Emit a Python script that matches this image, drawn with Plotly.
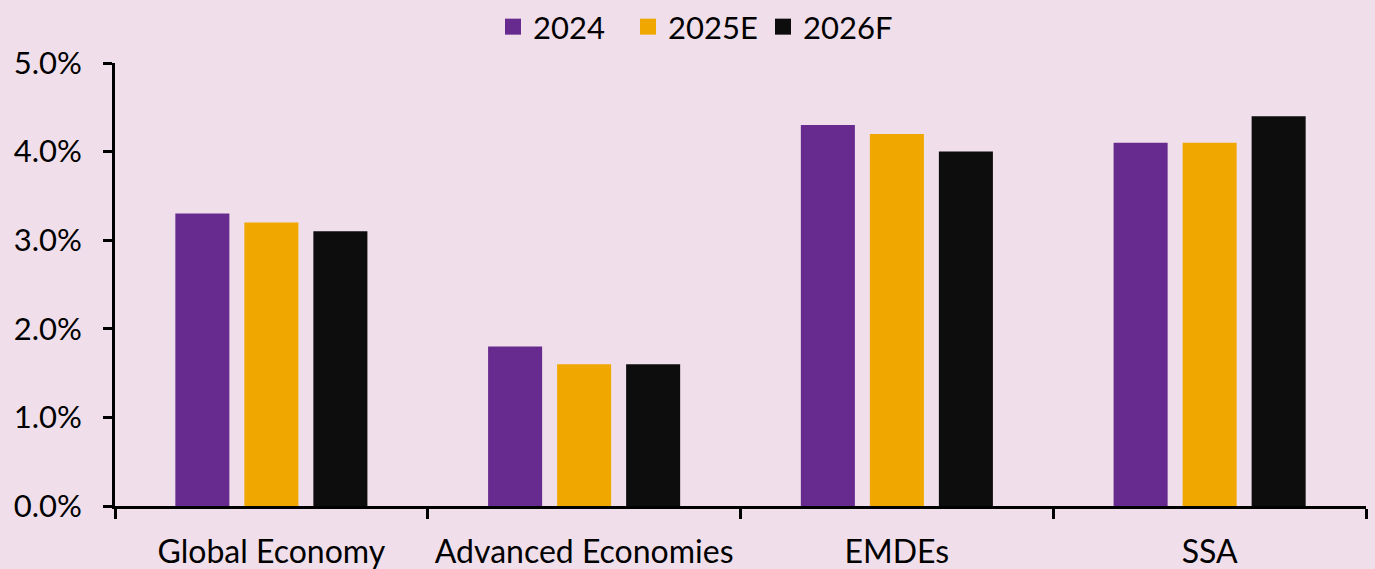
import plotly.graph_objects as go

categories = ["Global Economy", "Advanced Economies", "EMDEs", "SSA"]
growth_2024 = [3.3, 1.8, 4.3, 4.1]
growth_2025e = [3.2, 1.6, 4.2, 4.1]
growth_2026f = [3.1, 1.6, 4.0, 4.4]
series_names = ["2024", "2025E", "2026F"]
series_colors = ["#672A8E", "#F0A800", "#0D0D0D"]
y_ticks = [0, 1, 2, 3, 4, 5]
y_tick_labels = ["0.0%", "1.0%", "2.0%", "3.0%", "4.0%", "5.0%"]

BG = "#F0DFEA"
FONT = "Lato"

fig = go.Figure()
for name, vals, color in zip(series_names, [growth_2024, growth_2025e, growth_2026f], series_colors):
    fig.add_trace(go.Bar(name=name, x=categories, y=vals, showlegend=False,
                         marker=dict(color=color, line=dict(width=0))))
    # square legend key for each series
    fig.add_trace(go.Scatter(name=name, x=[None], y=[None], mode="markers",
                             marker=dict(symbol="square", size=17, color=color),
                             showlegend=True))

fig.update_layout(
    width=1375,
    height=569,
    margin=dict(l=115, r=9, t=63, b=63, autoexpand=False),
    paper_bgcolor=BG,
    plot_bgcolor=BG,
    barmode="group",
    bargap=0.338,
    bargroupgap=0.217,
    font=dict(family=FONT, color="#000000", size=31),
    showlegend=True,
    legend=dict(
        orientation="h",
        x=493 / 1375,
        xref="container",
        xanchor="left",
        y=1.0,
        yref="container",
        yanchor="top",
        font=dict(size=31),
        itemwidth=30,
        entrywidth=90,
        traceorder="normal",
        bgcolor="rgba(0,0,0,0)",
    ),
)

fig.update_xaxes(
    showline=True,
    linecolor="#000000",
    linewidth=3,
    ticks="outside",
    tickson="boundaries",
    ticklen=10,
    tickwidth=3,
    tickcolor="#000000",
    showgrid=False,
    tickfont=dict(size=32),
    ticklabelstandoff=16,
)
fig.update_yaxes(
    range=[0, 5],
    tickvals=y_ticks,
    ticktext=y_tick_labels,
    showline=True,
    linecolor="#000000",
    linewidth=3,
    ticks="outside",
    ticklen=9,
    tickwidth=3,
    tickcolor="#000000",
    showgrid=False,
    zeroline=False,
    tickfont=dict(size=31),
    ticklabelstandoff=15,
)

fig.write_html("out.html")
